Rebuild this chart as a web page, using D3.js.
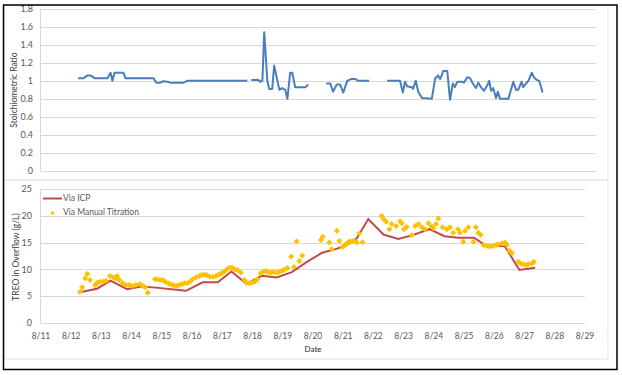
<!DOCTYPE html>
<html>
<head>
<meta charset="utf-8">
<script src="https://cdn.jsdelivr.net/npm/d3@7"></script>
<style>
  body { margin: 0; background: #fff; }
  text { font-family: Lato, "Liberation Sans", sans-serif; }
</style>
</head>
<body>
<svg id="chart" width="622" height="375"></svg>
<script>
// top panel: stoichiometric ratio (null = gap in the line)
var ratioDay = [12.22, 12.40, 12.52, 12.62, 12.75, 13.17, 13.27, 13.33, 13.40, 13.69, 13.75, 14.66, 14.75, 14.88, 14.98, 15.11, 15.21, 15.63, 15.76, 17.70,
  17.76,
  17.83, 18.06, 18.12, 18.19, 18.25, 18.35, 18.41, 18.51, 18.57, 18.74, 18.83, 18.93, 19.00, 19.09, 19.16, 19.25, 19.58, 19.68,
  19.9,
  20.26, 20.39, 20.48, 20.60, 20.71, 20.81, 20.94, 21.06, 21.20, 21.29, 21.65,
  21.9,
  22.23, 22.65, 22.74, 22.81, 22.88, 23.03, 23.07, 23.16, 23.24, 23.36, 23.68, 23.79, 23.84, 23.88, 23.95, 24.00, 24.05, 24.18,
  24.27, 24.36, 24.43, 24.49, 24.54, 24.65, 24.72, 24.83, 24.92, 25.01, 25.11, 25.19, 25.27, 25.37, 25.48, 25.54, 25.60, 25.67,
  25.76, 25.82, 25.89, 26.16, 26.32, 26.41, 26.48, 26.59, 26.64, 26.73, 26.81, 26.92, 26.99, 27.08, 27.16, 27.27]
var ratioVal = [1.03, 1.03, 1.06, 1.06, 1.03, 1.03, 1.09, 1.00, 1.09, 1.09, 1.03, 1.03, 0.98, 0.98, 0.995, 0.99, 0.98, 0.98, 1.0, 1.0,
  null,
  1.01, 1.01, 0.99, 1.0, 1.54, 1.0, 0.91, 0.91, 1.17, 0.9, 0.92, 0.9, 0.8, 1.09, 1.09, 0.93, 0.93, 0.96,
  null,
  0.97, 0.97, 0.88, 0.96, 0.96, 0.87, 1.0, 1.02, 1.02, 1.0, 1.0,
  null,
  1.0, 1.0, 0.87, 0.99, 0.94, 0.93, 0.91, 1.0, 0.88, 0.81, 0.80, 1.03, 1.04, 1.06, 1.02, 1.06, 1.11, 1.11,
  0.79, 0.97, 0.93, 0.98, 0.99, 0.99, 0.98, 1.04, 1.03, 0.97, 0.92, 0.98, 0.93, 0.89, 0.95, 1.0, 0.89, 0.92,
  0.81, 0.88, 0.80, 0.80, 0.99, 0.90, 0.90, 0.99, 0.93, 0.97, 1.0, 1.09, 1.04, 1.01, 1.0, 0.87]

var ratioTicks = [0, 0.2, 0.4, 0.6, 0.8, 1, 1.2, 1.4, 1.6, 1.8]

// bottom panel: TREO via ICP
var icpDay = [12.25, 12.85, 13.3, 13.85, 14.3, 14.8, 15.8, 16.35, 16.85, 17.3, 17.8, 18.3, 18.8, 19.3, 19.8, 20.3, 20.7, 21.1, 21.45,
  21.83, 22.33, 22.82, 23.25, 23.85, 24.35, 24.8, 25.33, 25.7, 26.35, 26.83, 27.35]
var icpVal = [5.7, 6.4, 7.9, 6.3, 6.8, 6.6, 6.0, 7.6, 7.6, 9.6, 7.3, 8.8, 8.5, 9.5, 11.4, 13.1, 13.7, 14.5, 15.8,
  19.4, 16.5, 15.7, 16.3, 17.5, 16.2, 15.9, 15.9, 14.5, 14.3, 9.9, 10.3]

// bottom panel: TREO via manual titration
var titDay = [12.29, 12.36, 12.46, 12.53, 12.62, 12.79, 12.86, 12.95, 13.06, 13.15, 13.28, 13.39, 13.46, 13.52, 13.59, 13.70, 13.81, 13.92,
  14.03, 14.14, 14.28, 14.37, 14.45, 14.53, 14.77, 14.85, 14.94, 15.03, 15.11, 15.21, 15.29, 15.38, 15.47, 15.56, 15.66, 15.74,
  15.84, 15.93, 16.02, 16.13, 16.24, 16.33, 16.42, 16.50, 16.59, 16.70, 16.79, 16.88, 16.97, 17.06, 17.14, 17.23, 17.32, 17.41,
  17.50, 17.61, 17.73, 17.81, 17.89, 17.98, 18.07, 18.16, 18.27, 18.36, 18.45, 18.53, 18.62, 18.71, 18.80, 18.89, 18.98, 19.06,
  19.15, 19.28, 19.37, 19.46, 19.55, 19.64,
  20.26, 20.32, 20.54, 20.62, 20.79, 20.87, 20.98, 21.06, 21.12, 21.20, 21.28, 21.36, 21.45, 21.53, 21.64,
  22.27, 22.35, 22.42, 22.53, 22.60, 22.75, 22.88, 22.94, 23.01, 23.10, 23.27, 23.38, 23.49, 23.60, 23.71, 23.82, 23.93, 23.98,
  24.07, 24.15, 24.29, 24.42, 24.53, 24.64, 24.80, 24.86, 24.97, 25.03, 25.14, 25.31, 25.39, 25.47, 25.55, 25.64, 25.75, 25.84,
  25.95, 26.06, 26.13, 26.25, 26.35, 26.41, 26.50, 26.58, 26.79, 26.87, 26.96, 27.05, 27.12, 27.24, 27.31]
var titVal = [5.84, 6.66, 8.33, 9.14, 8.02, 7.09, 7.52, 7.71, 7.71, 7.9, 8.77, 8.52, 8.3, 8.77, 8.0, 7.4, 7.1, 7.1,
  6.9, 7.1, 7.28, 6.9, 6.66, 5.66, 8.15, 8.15, 8.02, 8.02, 7.71, 7.4, 7.21, 7.03, 6.9, 7.1, 7.21, 7.4,
  7.4, 7.71, 8.15, 8.52, 8.77, 9.0, 9.0, 8.9, 8.65, 8.65, 8.77, 9.0, 9.3, 9.58, 10.0, 10.33, 10.3, 10.0,
  9.9, 9.4, 8.02, 7.52, 7.4, 7.52, 7.71, 8.15, 9.27, 9.58, 9.7, 9.4, 9.4, 9.5, 9.4, 9.58, 9.77, 10.0,
  10.27, 12.4, 10.45, 15.2, 11.55, 12.6,
  15.5, 16.1, 15.0, 13.75, 17.2, 15.3, 14.2, 14.55, 14.87, 15.2, 15.2, 15.35, 15.0, 16.7, 15.05,
  19.96, 19.3, 18.9, 17.5, 18.47, 18.1, 19.0, 18.6, 17.5, 17.9, 16.4, 18.1, 18.47, 17.85, 17.5, 18.6, 18.0, 17.7,
  18.47, 19.5, 17.85, 17.5, 17.85, 16.85, 17.5, 16.85, 15.17, 17.2, 17.85, 15.17, 17.85, 16.85, 16.4, 14.55, 14.37, 14.25,
  14.37, 14.55, 14.68, 14.87, 15.0, 14.55, 13.5, 13.0, 11.44, 11.1, 11.0, 10.8, 11.0, 11.1, 11.44]

var treoTicks = [0, 5, 10, 15, 20, 25]
var dateDays = [11, 12, 13, 14, 15, 16, 17, 18, 19, 20, 21, 22, 23, 24, 25, 26, 27, 28, 29]
var dateLabels = ["8/11", "8/12", "8/13", "8/14", "8/15", "8/16", "8/17", "8/18", "8/19", "8/20",
  "8/21", "8/22", "8/23", "8/24", "8/25", "8/26", "8/27", "8/28", "8/29"]

var svg = d3.select("#chart")
var gridColor = "#d9d9d9"
var labelColor = "#595959"

// panel frames
svg.append("rect").attr("x", 4).attr("y", 5).attr("width", 604).attr("height", 175)
    .attr("fill", "none").attr("stroke", "#e4e4e4")
svg.append("rect").attr("x", 4).attr("y", 180).attr("width", 604).attr("height", 179)
    .attr("fill", "none").attr("stroke", "#e4e4e4")

// ---------- top chart ----------
var xTop = d3.scaleLinear().domain([11, 29]).range([40.5, 596])
var yTop = d3.scaleLinear().domain([0, 1.8]).range([171, 8.7])

svg.append("g").selectAll("line")
    .data(ratioTicks)
    .enter()
    .append("line")
    .attr("x1", 40.5).attr("x2", 596)
    .attr("y1", function(d) { return Math.round(yTop(d)) + 0.5 })
    .attr("y2", function(d) { return Math.round(yTop(d)) + 0.5 })
    .attr("stroke", gridColor)

svg.append("line").attr("x1", 40.5).attr("x2", 40.5).attr("y1", 8.7).attr("y2", 171.5).attr("stroke", gridColor)

svg.append("g").selectAll("text")
    .data(ratioTicks)
    .enter()
    .append("text")
    .attr("x", 33)
    .attr("y", function(d) { return yTop(d) })
    .attr("dy", "0.35em")
    .attr("text-anchor", "end")
    .attr("font-size", 9)
    .attr("fill", labelColor)
    .text(function(d) { return d })

svg.append("text")
    .attr("transform", "translate(14,90) rotate(-90)")
    .attr("text-anchor", "middle")
    .attr("dy", "0.35em")
    .attr("font-size", 8.5)
    .attr("fill", "#404040")
    .text("Stoichiometric Ratio")

var ratioLine = d3.line()
    .defined(function(d) { return d[1] != null })
    .x(function(d) { return xTop(d[0]) })
    .y(function(d) { return yTop(d[1]) })

svg.append("path")
    .datum(d3.zip(ratioDay, ratioVal))
    .attr("d", ratioLine)
    .attr("fill", "none")
    .attr("stroke", "#4a7ebb")
    .attr("stroke-width", 2)
    .attr("stroke-linejoin", "round")

// ---------- bottom chart ----------
var xBot = d3.scaleLinear().domain([11, 29]).range([41, 585])
var yBot = d3.scaleLinear().domain([0, 25]).range([323, 189])

svg.append("g").selectAll("line")
    .data(treoTicks)
    .enter()
    .append("line")
    .attr("x1", 40.5).attr("x2", 585)
    .attr("y1", function(d) { return Math.round(yBot(d)) + 0.5 })
    .attr("y2", function(d) { return Math.round(yBot(d)) + 0.5 })
    .attr("stroke", gridColor)

svg.append("line").attr("x1", 40.5).attr("x2", 40.5).attr("y1", 189).attr("y2", 323.5).attr("stroke", gridColor)

svg.append("g").selectAll("text")
    .data(treoTicks)
    .enter()
    .append("text")
    .attr("x", 32)
    .attr("y", function(d) { return yBot(d) })
    .attr("dy", "0.35em")
    .attr("text-anchor", "end")
    .attr("font-size", 9)
    .attr("fill", labelColor)
    .text(function(d) { return d })

svg.append("g").selectAll("text")
    .data(dateDays)
    .enter()
    .append("text")
    .attr("x", function(d) { return xBot(d) })
    .attr("y", 336)
    .attr("dy", "0.35em")
    .attr("text-anchor", "middle")
    .attr("font-size", 8.5)
    .attr("fill", labelColor)
    .text(function(d, i) { return dateLabels[i] })

svg.append("text")
    .attr("x", 313).attr("y", 349.5)
    .attr("dy", "0.35em")
    .attr("text-anchor", "middle")
    .attr("font-size", 8)
    .attr("fill", "#262626")
    .text("Date")

svg.append("text")
    .attr("transform", "translate(16.5,257) rotate(-90)")
    .attr("text-anchor", "middle")
    .attr("dy", "0.35em")
    .attr("font-size", 8.5)
    .attr("fill", "#404040")
    .text("TREO in Overflow (g/L)")

var icpLine = d3.line()
    .x(function(d) { return xBot(d[0]) })
    .y(function(d) { return yBot(d[1]) })

svg.append("path")
    .datum(d3.zip(icpDay, icpVal))
    .attr("d", icpLine)
    .attr("fill", "none")
    .attr("stroke", "#be4b48")
    .attr("stroke-width", 2)

// Excel-style diamond: square turned 45 degrees
var diamond = d3.symbol().type(d3.symbolSquare).size(18)

svg.append("g").selectAll("path")
    .data(d3.zip(titDay, titVal))
    .enter()
    .append("path")
    .attr("d", diamond)
    .attr("transform", function(d) { return "translate(" + xBot(d[0]) + "," + yBot(d[1]) + ") rotate(45)" })
    .attr("fill", "#ffc000")

// legend
svg.append("line").attr("x1", 43).attr("x2", 62).attr("y1", 198.5).attr("y2", 198.5)
    .attr("stroke", "#be4b48").attr("stroke-width", 2)
svg.append("text").attr("x", 63).attr("y", 198).attr("dy", "0.35em")
    .attr("font-size", 8.5).attr("fill", labelColor).text("Via ICP")
svg.append("path").attr("d", d3.symbol().type(d3.symbolSquare).size(9))
    .attr("transform", "translate(52.5,213) rotate(45)").attr("fill", "#ffc000")
svg.append("text").attr("x", 63).attr("y", 212).attr("dy", "0.35em")
    .attr("font-size", 8.5).attr("fill", labelColor).text("Via Manual Titration")

// outer border
svg.append("rect").attr("x", 3.5).attr("y", 5).attr("width", 613.5).attr("height", 364.5)
    .attr("fill", "none").attr("stroke", "#000").attr("stroke-width", 1.5)
</script>
</body>
</html>
